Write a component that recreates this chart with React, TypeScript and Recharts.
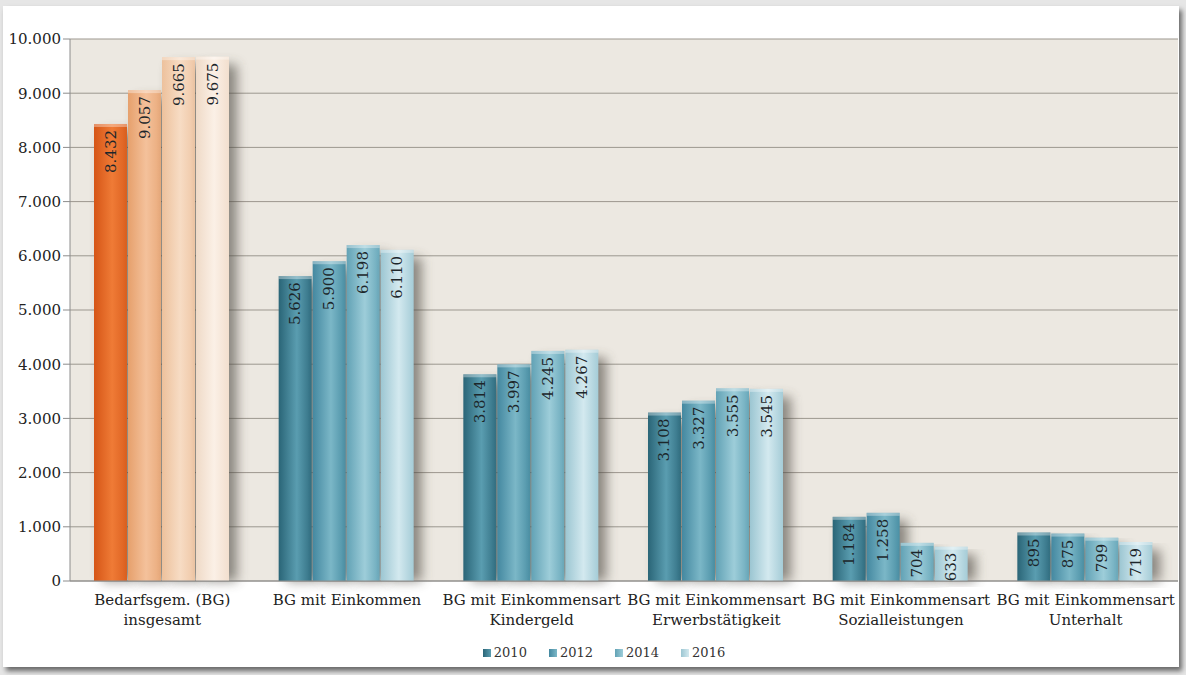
import React from 'react'
import { BarChart, Bar, XAxis, YAxis, CartesianGrid, Legend, LabelList, Cell } from 'recharts'

const categories = [
  'Bedarfsgem. (BG)\ninsgesamt',
  'BG mit Einkommen',
  'BG mit Einkommensart\nKindergeld',
  'BG mit Einkommensart\nErwerbstätigkeit',
  'BG mit Einkommensart\nSozialleistungen',
  'BG mit Einkommensart\nUnterhalt',
]
const years = ['2010', '2012', '2014', '2016']
const values2010 = [8432, 5626, 3814, 3108, 1184, 895]
const values2012 = [9057, 5900, 3997, 3327, 1258, 875]
const values2014 = [9665, 6198, 4245, 3555, 704, 799]
const values2016 = [9675, 6110, 4267, 3545, 633, 719]
const yTicks = [0, 1000, 2000, 3000, 4000, 5000, 6000, 7000, 8000, 9000, 10000]

const series = [values2010, values2012, values2014, values2016]

// gradient stops: edge, middle, edge
const ORANGE = [
  ['#d55516', '#ef7b36', '#dc6020'],
  ['#e6a06c', '#f4c19b', '#e9aa7b'],
  ['#edc19c', '#f7dcc4', '#efc7a6'],
  ['#efdac7', '#fbf0e6', '#f2dfce'],
]
const TEAL = [
  ['#2a6577', '#5a9db0', '#326f82'],
  ['#4488a0', '#7bb7c7', '#4b90a5'],
  ['#62a2b5', '#9dcdd9', '#6aa9bb'],
  ['#9cc6d2', '#d3e9ef', '#a5ccd7'],
]

const FONT = '"DejaVu Serif", "Liberation Serif", serif'

const data = categories.map((name, i) => {
  const row: Record<string, string | number> = { name }
  years.forEach((y, k) => { row['y' + y] = series[k][i] })
  return row
})

function fmt(n: number) { return n.toLocaleString('de-DE') }

function BarShape(props: any) {
  const { x, y, width, height, fill } = props
  if (!height || height <= 0) return null
  return (
    <g>
      <rect x={x + 8} y={y + 8} width={width} height={height - 8} fill="#4a443c" opacity={0.6} filter="url(#blur)" />
      <rect x={x} y={y} width={width} height={height} fill={fill} />
      <rect x={x} y={y} width={width} height={3} fill="#fff" opacity={0.35} />
    </g>
  )
}

function ValueLabel(props: any) {
  const { x, y, width, value } = props
  const cx = x + width / 2
  const ty = y + 6
  return (
    <text x={cx} y={ty} transform={`rotate(-90 ${cx} ${ty})`} textAnchor="end" dominantBaseline="central"
      fontFamily={FONT} fontSize={15} fill="#1c262a">{fmt(value)}</text>
  )
}

function CategoryTick(props: any) {
  const { x, y, payload } = props
  const lines = String(payload.value).split('\n')
  return (
    <text x={x} y={y} textAnchor="middle" fontFamily={FONT} fontSize={15} fill="#222">
      {lines.map((l, i) => <tspan key={i} x={x} dy={i === 0 ? 16 : 20}>{l}</tspan>)}
    </text>
  )
}

function LegendContent() {
  return (
    <div style={{ display: 'flex', justifyContent: 'center', gap: 22, fontFamily: FONT, fontSize: 13, color: '#333', paddingLeft: 30 }}>
      {years.map((y, k) => (
        <div key={y} style={{ display: 'flex', alignItems: 'center', gap: 3 }}>
          <span style={{ width: 8, height: 8, display: 'inline-block', background: `linear-gradient(90deg, ${TEAL[k][0]}, ${TEAL[k][1]})` }} />
          <span>{y}</span>
        </div>
      ))}
    </div>
  )
}

export default function App() {
  return (
    <div style={{ position: 'absolute', left: 0, top: 0, width: 1186, height: 675, background: '#e6e6e6', overflow: 'hidden' }}>
      <div style={{ position: 'absolute', left: 3, top: 6, width: 1176, height: 661, background: '#fff', boxShadow: '3px 4px 5px rgba(0,0,0,0.55)' }} />
      <div style={{ position: 'absolute', left: 0, top: 0 }}>
        <BarChart width={1186} height={675} data={data} margin={{ top: 39, right: 8, left: 0, bottom: 0 }}
          barCategoryGap="13%" barGap={1}>
          <defs>
            <filter id="blur" x="-100%" y="-20%" width="300%" height="140%">
              <feGaussianBlur stdDeviation="6" />
            </filter>
            {ORANGE.map((c, k) => (
              <linearGradient key={'o' + k} id={'o' + k} x1="0" y1="0" x2="1" y2="0">
                <stop offset="0%" stopColor={c[0]} />
                <stop offset="55%" stopColor={c[1]} />
                <stop offset="100%" stopColor={c[2]} />
              </linearGradient>
            ))}
            {TEAL.map((c, k) => (
              <linearGradient key={'t' + k} id={'t' + k} x1="0" y1="0" x2="1" y2="0">
                <stop offset="0%" stopColor={c[0]} />
                <stop offset="55%" stopColor={c[1]} />
                <stop offset="100%" stopColor={c[2]} />
              </linearGradient>
            ))}
          </defs>
          <CartesianGrid vertical={false} stroke="#9c978f" fill="#ece8e1" />
          <XAxis dataKey="name" interval={0} height={64} tick={<CategoryTick />} tickLine={false}
            axisLine={{ stroke: '#8c8c8c' }} />
          <YAxis width={70} domain={[0, 10000]} ticks={yTicks} tickFormatter={fmt} interval={0}
            tick={{ fontFamily: FONT, fontSize: 15, fill: '#222' }} tickSize={7} tickMargin={2}
            tickLine={{ stroke: '#8c8c8c' }} axisLine={{ stroke: '#8c8c8c' }} />
          <Legend verticalAlign="bottom" height={30} content={<LegendContent />} />
          {years.map((y, k) => (
            <Bar key={y} dataKey={'y' + y} name={y} fill={`url(#t${k})`} shape={<BarShape />} isAnimationActive={false}>
              {data.map((_, i) => <Cell key={i} fill={i === 0 ? `url(#o${k})` : `url(#t${k})`} />)}
              <LabelList dataKey={'y' + y} content={<ValueLabel />} />
            </Bar>
          ))}
        </BarChart>
      </div>
    </div>
  )
}
